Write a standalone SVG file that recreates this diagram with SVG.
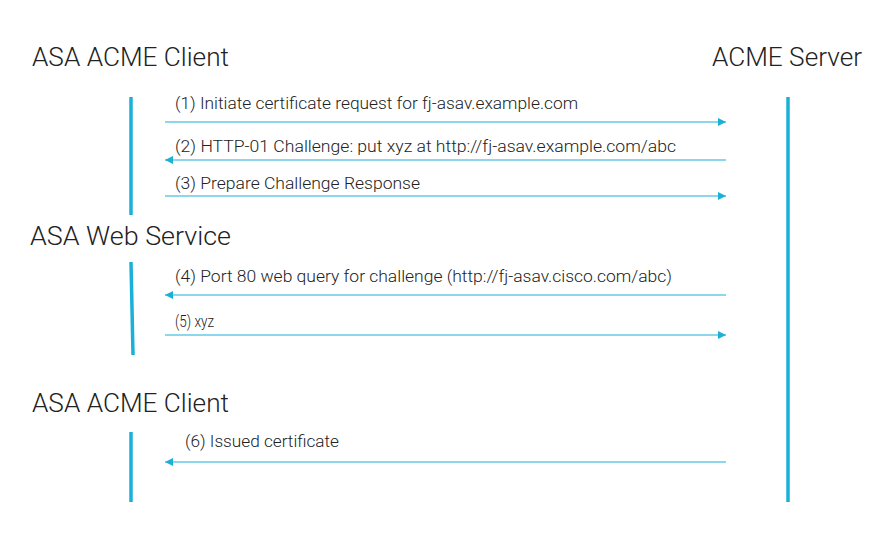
<svg xmlns="http://www.w3.org/2000/svg" width="882" height="545" viewBox="0 0 882 545">
<style>
.t{font-family:Roboto,"Liberation Sans",sans-serif;font-weight:300;fill:#222}
.h{font-size:25px}
.l{font-size:16px}
.bar{stroke:#1BB0D8;stroke-width:3.5;fill:none}
.c{stroke:#1BB0D8;stroke-width:1.2;fill:none}
</style>
<defs>
<marker id="a" viewBox="0 0 10 10" refX="10" refY="5" markerWidth="8" markerHeight="8" markerUnits="userSpaceOnUse" orient="auto"><path d="M0,0L10,5L0,10z" fill="#1BB0D8"/></marker>
</defs>
<rect width="882" height="545" fill="#fff"/>
<g id="client1"><text class="t h" x="32" y="66" textLength="197" lengthAdjust="spacingAndGlyphs">ASA ACME Client</text><line class="bar" x1="131" y1="97" x2="131" y2="215"/></g>
<g id="server"><text class="t h" x="712" y="66" textLength="150" lengthAdjust="spacingAndGlyphs">ACME Server</text><line class="bar" x1="788" y1="97" x2="788" y2="502"/></g>
<g id="web"><text class="t h" x="30" y="245" textLength="201" lengthAdjust="spacingAndGlyphs">ASA Web Service</text><line class="bar" x1="131" y1="262" x2="133" y2="355"/></g>
<g id="client2"><text class="t h" x="32" y="412" textLength="197" lengthAdjust="spacingAndGlyphs">ASA ACME Client</text><line class="bar" x1="131" y1="432" x2="131" y2="502"/></g>
<g id="connectors">
<line class="c" x1="165" y1="122" x2="726" y2="122" marker-end="url(#a)"/>
<text class="t l" x="175" y="109" textLength="403" lengthAdjust="spacingAndGlyphs">(1) Initiate certificate request for fj-asav.example.com</text>
<line class="c" x1="726" y1="160" x2="165" y2="160" marker-end="url(#a)"/>
<text class="t l" x="175" y="152" textLength="501" lengthAdjust="spacingAndGlyphs">(2) HTTP-01 Challenge: put xyz at http://fj-asav.example.com/abc</text>
<line class="c" x1="165" y1="196" x2="726" y2="196" marker-end="url(#a)"/>
<text class="t l" x="175" y="189" textLength="245" lengthAdjust="spacingAndGlyphs">(3) Prepare Challenge Response</text>
<line class="c" x1="726" y1="295" x2="165" y2="295" marker-end="url(#a)"/>
<text class="t l" x="175" y="282" textLength="497" lengthAdjust="spacingAndGlyphs">(4) Port 80 web query for challenge (http://fj-asav.cisco.com/abc)</text>
<line class="c" x1="165" y1="335" x2="726" y2="335" marker-end="url(#a)"/>
<text class="t l" x="175" y="327" textLength="39" lengthAdjust="spacingAndGlyphs">(5) xyz</text>
<line class="c" x1="726" y1="462" x2="165" y2="462" marker-end="url(#a)"/>
<text class="t l" x="185" y="447" textLength="154" lengthAdjust="spacingAndGlyphs">(6) Issued certificate</text>
</g>
</svg>
